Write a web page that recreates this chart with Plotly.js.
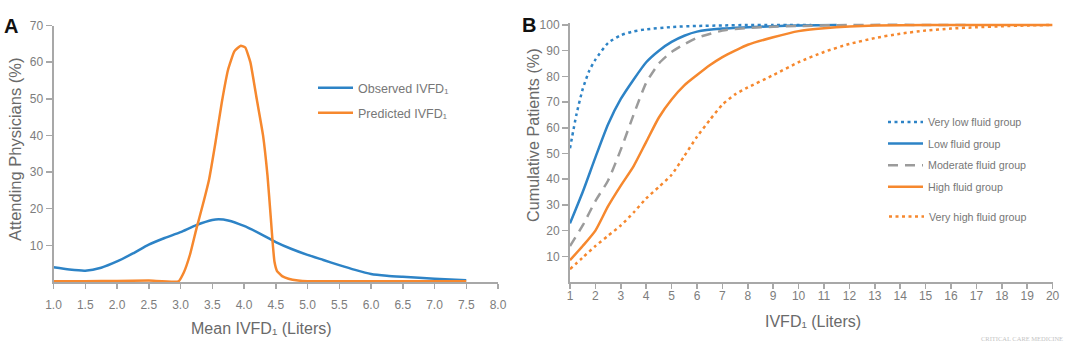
<!DOCTYPE html>
<html><head><meta charset="utf-8">
<script src="https://cdn.plot.ly/plotly-3.0.1.min.js"></script>
<style>html,body{margin:0;padding:0;background:#fff}#chart{width:1080px;height:351px}</style>
</head><body><div id="chart"></div>
<script>
// ---- Panel A data ----
const obsX = [1.0,1.25,1.5,1.75,2.0,2.25,2.5,2.75,3.0,3.25,3.5,3.6,3.75,4.0,4.25,4.5,4.75,5.0,5.25,5.5,5.75,6.0,6.25,6.5,7.0,7.5];
const obsY = [4.0,3.4,3.1,3.9,5.6,7.8,10.2,12.0,13.6,15.5,16.9,17.1,16.8,15.3,13.2,10.9,9.0,7.4,6.0,4.6,3.3,2.2,1.7,1.4,0.9,0.5];
const predX = [1.0,1.5,2.0,2.5,2.97,3.05,3.15,3.25,3.35,3.45,3.55,3.65,3.75,3.85,3.95,4.02,4.1,4.2,4.3,4.37,4.42,4.45,4.48,4.52,4.6,4.7,4.85,5.0,6.0,7.0,7.5];
const predY = [0.2,0.2,0.3,0.4,0.2,2.5,7.5,14.5,21,28,38,49,58,63,64.5,64,60,50,40,29,18,11,5.5,3,1.6,0.9,0.4,0.2,0.2,0.2,0.2];
const aXTicks = [1.0,1.5,2.0,2.5,3.0,3.5,4.0,4.5,5.0,5.5,6.0,6.5,7.0,7.5,8.0];
const aYTicks = [10,20,30,40,50,60,70];

// ---- Panel B data ----
const vlowX = [1,1.25,1.5,1.75,2,2.5,3,3.5,4,5,6,7,8,9,10.5];
const vlowY = [52,65,75,82,86.5,93,96,97.5,98.3,99.2,99.6,99.8,100,100,100];
const lowX = [1,1.5,2,2.5,3,3.5,4,4.5,5,5.5,6,7,8,9,10,11.5];
const lowY = [22.8,35,48.5,61.4,71.2,78.7,85.5,90,93.4,95.8,97.4,98.6,99.1,99.5,99.8,100];
const modX = [1,1.5,2,2.5,3,3.5,4,4.5,5,5.5,6,7,8,9,10,12,16.6];
const modY = [14,22,31.5,39.5,51.5,65,77.5,85,89.5,92.5,95,97.8,98.8,99.3,99.6,100,100];
const highX = [1,1.5,2,2.5,3,3.5,4,4.5,5,5.5,6,6.5,7,7.5,8,9,10,11,12,13,15,20];
const highY = [8.5,14,20,29.5,37.5,45,54.5,64,71,76.5,80.5,84.3,87.5,90,92.3,95.2,97.6,98.7,99.4,99.8,100,100];
const vhighX = [1,1.5,2,2.5,3,3.5,4,4.5,5,5.5,6,6.5,7,7.5,8,9,10,11,12,13,14,15,16,17,18,19,20];
const vhighY = [5,9.5,14,18,22,27,32.5,37,41.7,49,56.5,63,69,73,75.7,80.5,85.5,89.5,92.6,94.9,96.6,97.8,98.6,99.1,99.5,99.8,100];
const bXTicks = [1,2,3,4,5,6,7,8,9,10,11,12,13,14,15,16,17,18,19,20];
const bYTicks = [10,20,30,40,50,60,70,80,90,100];

const BLUE = '#2d83c6', ORANGE = '#f6882e', GRAY = '#9b9b9b';
const FONT = 'Liberation Sans, Arial, Helvetica, sans-serif';
const AXC = '#a8a8a8', TICKC = '#7d7d7d', TITC = '#6a6a6a';
const DOT = '3px,3.5px', DASH = '10px,7px';

const traces = [
  {x: obsX, y: obsY, mode: 'lines', name: 'Observed IVFD₁', line: {color: BLUE, width: 2.5, shape: 'spline', smoothing: 0.6}, xaxis: 'x', yaxis: 'y', legend: 'legend', legendgroup: 'a1'},
  {x: predX, y: predY, mode: 'lines', name: 'Predicted IVFD₁', line: {color: ORANGE, width: 2.5, shape: 'spline', smoothing: 0.4}, xaxis: 'x', yaxis: 'y', legend: 'legend', legendgroup: 'a2'},
  {x: vlowX, y: vlowY, mode: 'lines', name: 'Very low fluid group', line: {color: BLUE, width: 2.5, dash: DOT, shape: 'spline', smoothing: 0.6}, xaxis: 'x2', yaxis: 'y2', legend: 'legend2', legendgroup: 'b1'},
  {x: lowX, y: lowY, mode: 'lines', name: 'Low fluid group', line: {color: BLUE, width: 2.5, shape: 'spline', smoothing: 0.6}, xaxis: 'x2', yaxis: 'y2', legend: 'legend2', legendgroup: 'b2'},
  {x: modX, y: modY, mode: 'lines', name: 'Moderate fluid group', line: {color: GRAY, width: 2.5, dash: DASH, shape: 'spline', smoothing: 0.6}, xaxis: 'x2', yaxis: 'y2', legend: 'legend2', legendgroup: 'b3'},
  {x: highX, y: highY, mode: 'lines', name: 'High fluid group', line: {color: ORANGE, width: 2.5, shape: 'spline', smoothing: 0.6}, xaxis: 'x2', yaxis: 'y2', legend: 'legend2', legendgroup: 'b4'},
  {x: vhighX, y: vhighY, mode: 'lines', name: 'Very high fluid group', line: {color: ORANGE, width: 2.5, dash: DOT, shape: 'spline', smoothing: 0.6}, xaxis: 'x2', yaxis: 'y2', legend: 'legend3', legendgroup: 'b5'}
];

const axBase = {
  showline: true, linecolor: AXC, linewidth: 2, ticks: 'outside', ticklen: 5, tickwidth: 1.5,
  tickcolor: AXC, tickfont: {family: FONT, size: 12, color: TICKC}, showgrid: false, zeroline: false, fixedrange: true
};

const W = 1080, H = 351;
const px = v => v / W, py = v => (H - v) / H;
const ann = (text, x, y, size, color, extra) => Object.assign({
  text: text, x: px(x), y: py(y), xref: 'paper', yref: 'paper', xanchor: 'center', yanchor: 'middle',
  showarrow: false, font: {family: FONT, size: size, color: color}
}, extra || {});

const layout = {
  width: W, height: H, margin: {l: 0, r: 0, t: 0, b: 0},
  paper_bgcolor: '#fff', plot_bgcolor: '#fff', font: {family: FONT},
  showlegend: true, hovermode: false,
  xaxis: Object.assign({}, axBase, {domain: [px(53.5), px(498)], range: [1, 8], tickvals: aXTicks, tickformat: '.1f', anchor: 'y', ticklabelstandoff: 6}),
  yaxis: Object.assign({}, axBase, {domain: [py(282), py(25.5)], range: [0, 70], tickvals: aYTicks, anchor: 'x', ticklen: 6}),
  xaxis2: Object.assign({}, axBase, {domain: [px(570), px(1052.6)], range: [1, 20], tickvals: bXTicks, anchor: 'y2', ticklabelstandoff: -3}),
  yaxis2: Object.assign({}, axBase, {domain: [py(282), py(22.9)], range: [0, 100.8], tickvals: bYTicks, anchor: 'x2', ticklen: 6}),
  legend: {x: px(313), y: py(73), xanchor: 'left', yanchor: 'top', bgcolor: 'rgba(0,0,0,0)', borderwidth: 0,
    font: {family: FONT, size: 12.5, color: '#777'}, itemwidth: 35, traceorder: 'grouped', tracegroupgap: 5.75},
  legend2: {x: px(883), y: py(107.5), xanchor: 'left', yanchor: 'top', bgcolor: 'rgba(0,0,0,0)', borderwidth: 0,
    font: {family: FONT, size: 10.7, color: '#777'}, itemwidth: 35, traceorder: 'grouped', tracegroupgap: 2.6},
  legend3: {x: px(884), y: py(202), xanchor: 'left', yanchor: 'top', bgcolor: 'rgba(0,0,0,0)', borderwidth: 0,
    font: {family: FONT, size: 10.7, color: '#777'}, itemwidth: 35},
  annotations: [
    ann('<b>A</b>', 11, 26, 20, '#111'),
    ann('<b>B</b>', 529, 25, 20, '#111'),
    ann('Attending Physicians (%)', 15, 150, 16.5, TITC, {textangle: -90}),
    ann('Mean IVFD₁ (Liters)', 261, 328, 16, TITC),
    ann('Cumulative Patients (%)', 533, 135, 16.2, TITC, {textangle: -90}),
    ann('IVFD₁ (Liters)', 813, 321, 16, TITC),
    ann('CRITICAL CARE MEDICINE', 1022, 338.5, 6.5, '#c4c4c4', {font: {family: 'Liberation Serif, serif', size: 6.5, color: '#c4c4c4'}})
  ]
};

Plotly.newPlot('chart', traces, layout, {staticPlot: true, displayModeBar: false});
</script>
</body></html>
